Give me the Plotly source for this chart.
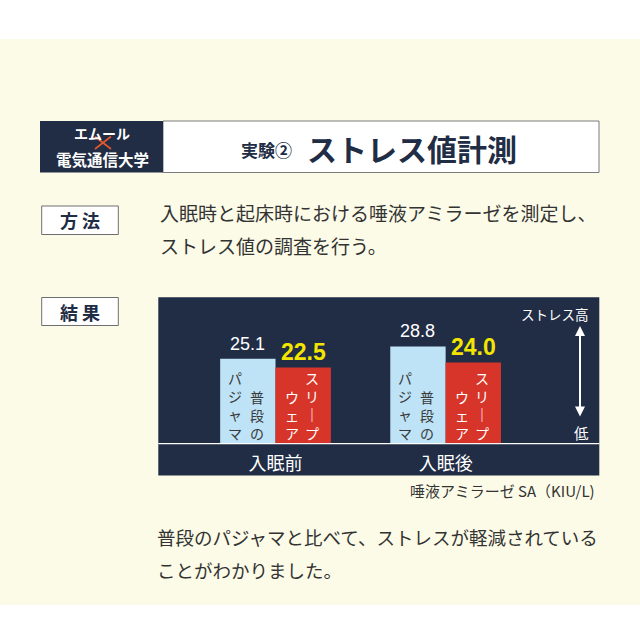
import plotly.graph_objects as go

# ---- data ----
categories = ["入眠前", "入眠後"]
series_names = ["普段のパジャマ", "スリープウェア"]
pajama_values = [25.1, 28.8]
sleepwear_values = [22.5, 24.0]
pajama_label_cols = ["パジャマ", "普段の"]      # left column, right column (vertical text)
sleepwear_label_cols = ["ウェア", "スリープ"]
unit_label = "唾液アミラーゼ SA（KIU/L)"
scale_top_label = "ストレス高"
scale_bottom_label = "低"
title_small = "実験②"
title_big = "ストレス値計測"
brand_top = "エムール"
brand_bottom = "電気通信大学"
method_tag = "方 法"
result_tag = "結 果"
method_lines = ["入眠時と起床時における唾液アミラーゼを測定し、", "ストレス値の調査を行う。"]
conclusion_lines = ["普段のパジャマと比べて、ストレスが軽減されている", "ことがわかりました。"]

# ---- styling ----
W = H = 640
CJK = "Noto Sans CJK JP"
NUM = "Liberation Sans, Arial, sans-serif"
NAVY = "#212C45"
CREAM = "#FCFBE7"
BLUE = "#BEE3F6"
RED = "#D8352A"
YELLOW = "#F3E500"
TEXT = "#333333"


def X(px):
    return px / W


def Y(py):
    return 1 - py / H


fig = go.Figure()
fig.add_trace(go.Bar(x=categories, y=pajama_values, name=series_names[0],
                     marker=dict(color=BLUE, line=dict(width=0)), hoverinfo="skip"))
fig.add_trace(go.Bar(x=categories, y=sleepwear_values, name=series_names[1],
                     marker=dict(color=RED, line=dict(width=0)), hoverinfo="skip"))

shapes = []
annotations = []

# background band
shapes.append(dict(type="rect", xref="paper", yref="paper", x0=0, x1=1, y0=Y(605), y1=Y(39),
                   fillcolor=CREAM, line=dict(width=0), layer="below"))
# header
shapes.append(dict(type="rect", xref="paper", yref="paper", x0=X(163), x1=X(599), y0=Y(172.5), y1=Y(121),
                   fillcolor="white", line=dict(color="#7a7a7a", width=1), layer="below"))
shapes.append(dict(type="rect", xref="paper", yref="paper", x0=X(40), x1=X(163), y0=Y(172.5), y1=Y(121),
                   fillcolor=NAVY, line=dict(width=0), layer="below"))
shapes.append(dict(type="line", xref="paper", yref="paper", x0=X(95), x1=X(111), y0=Y(136.5), y1=Y(149),
                   line=dict(color="#E5582C", width=1.6), layer="below"))
shapes.append(dict(type="line", xref="paper", yref="paper", x0=X(111), x1=X(95), y0=Y(136.5), y1=Y(149),
                   line=dict(color="#E5582C", width=1.6), layer="below"))
# tags
for (y0, y1) in [(206, 234.5), (297.5, 325.5)]:
    shapes.append(dict(type="rect", xref="paper", yref="paper", x0=X(41.7), x1=X(118.3), y0=Y(y1), y1=Y(y0),
                       fillcolor="white", line=dict(color="#6e6e6e", width=1), layer="below"))
# chart panel
shapes.append(dict(type="rect", xref="paper", yref="paper", x0=X(158.3), x1=X(599.3), y0=Y(475.5), y1=Y(297.3),
                   fillcolor=NAVY, line=dict(width=0), layer="below"))
shapes.append(dict(type="line", xref="paper", yref="paper", x0=X(158.3), x1=X(599.3), y0=Y(443.6), y1=Y(443.6),
                   line=dict(color="white", width=1.3), layer="below"))


def text_ann(txt, px, py, size, color, bold=False, family=CJK, xanchor="center"):
    annotations.append(dict(text=txt, xref="paper", yref="paper", x=X(px), y=Y(py), xanchor=xanchor,
                            yanchor="middle", showarrow=False,
                            font=dict(family=family, size=size, color=color, weight=700 if bold else 400)))


text_ann(brand_top, 101.5, 132.5, 14, "white", bold=True)
text_ann(brand_bottom, 102.5, 159.3, 15.5, "white", bold=True)
text_ann(title_small, 266, 149, 17, NAVY, bold=True)
text_ann(title_big, 412, 147.5, 30, NAVY, bold=True)
text_ann(method_tag, 80, 220.5, 18, NAVY, bold=True)
text_ann(result_tag, 80, 311.7, 18, NAVY, bold=True)
for i, line in enumerate(method_lines):
    text_ann(line, 158, 212 + 33 * i, 19, TEXT, xanchor="left")
for i, line in enumerate(conclusion_lines):
    text_ann(line, 155, 537 + 32.5 * i, 18.5, TEXT, xanchor="left")
text_ann(unit_label, 597, 490, 15, TEXT, xanchor="right")
text_ann(scale_top_label, 555, 314, 13.5, "white")
text_ann(scale_bottom_label, 581, 432, 14.5, "white")
annotations.append(dict(text="", xref="paper", yref="paper", x=X(580), y=Y(326), ax=0, ay=92,
                        showarrow=True, arrowhead=2, startarrowhead=2, arrowside="end+start",
                        arrowwidth=2, arrowsize=1, startarrowsize=1, arrowcolor="white"))

# value labels and vertical in-bar labels
BAR_HALF = 27.75
VSIZE = 14
VSTEP = 1.3 * VSIZE
VERT = {"ー": "｜"}
for ci, cat in enumerate(categories):
    annotations.append(dict(text=f"{pajama_values[ci]:.1f}", xref="x", yref="y", x=cat, y=pajama_values[ci],
                            xshift=-BAR_HALF, yshift=15, yanchor="middle", showarrow=False,
                            font=dict(family=NUM, size=18, color="white")))
    annotations.append(dict(text=f"{sleepwear_values[ci]:.1f}", xref="x", yref="y", x=cat, y=sleepwear_values[ci],
                            xshift=BAR_HALF, yshift=16, yanchor="middle", showarrow=False,
                            font=dict(family=NUM, size=23, color=YELLOW, weight=700)))
    for cols, center, offs, color in [(pajama_label_cols, -BAR_HALF, (-12.5, 9), "#3a3a3a"),
                                      (sleepwear_label_cols, BAR_HALF, (-11, 9), "white")]:
        for col, off in zip(cols, offs):
            n = len(col)
            txt = "<br>".join(VERT.get(ch, ch) for ch in col)
            annotations.append(dict(text=txt, xref="x", yref="y", x=cat, y=0,
                                    xshift=center + off, yshift=10.5 + VSTEP * (n - 1) / 2,
                                    yanchor="middle", showarrow=False,
                                    font=dict(family=CJK, size=VSIZE, color=color)))

fig.update_layout(
    width=W, height=H, margin=dict(l=0, r=0, t=0, b=0),
    paper_bgcolor="white", plot_bgcolor="rgba(0,0,0,0)",
    barmode="group", bargap=0.349, bargroupgap=0,
    showlegend=False, hovermode=False,
    shapes=shapes, annotations=annotations,
    xaxis=dict(domain=[X(158.3), X(599.3)], range=[-0.6891, 1.9033], type="category",
               showgrid=False, zeroline=False, showline=False, ticks="",
               tickfont=dict(family=CJK, size=18, color="white"), ticklabelstandoff=8, fixedrange=True),
    yaxis=dict(domain=[Y(443.3), Y(297.3)], range=[0, 43.4], showgrid=False, zeroline=False,
               showline=False, showticklabels=False, fixedrange=True),
)

fig.write_html("out.html", config={"displayModeBar": False},
               post_script="document.body.style.margin='0';document.body.style.padding='0';")
